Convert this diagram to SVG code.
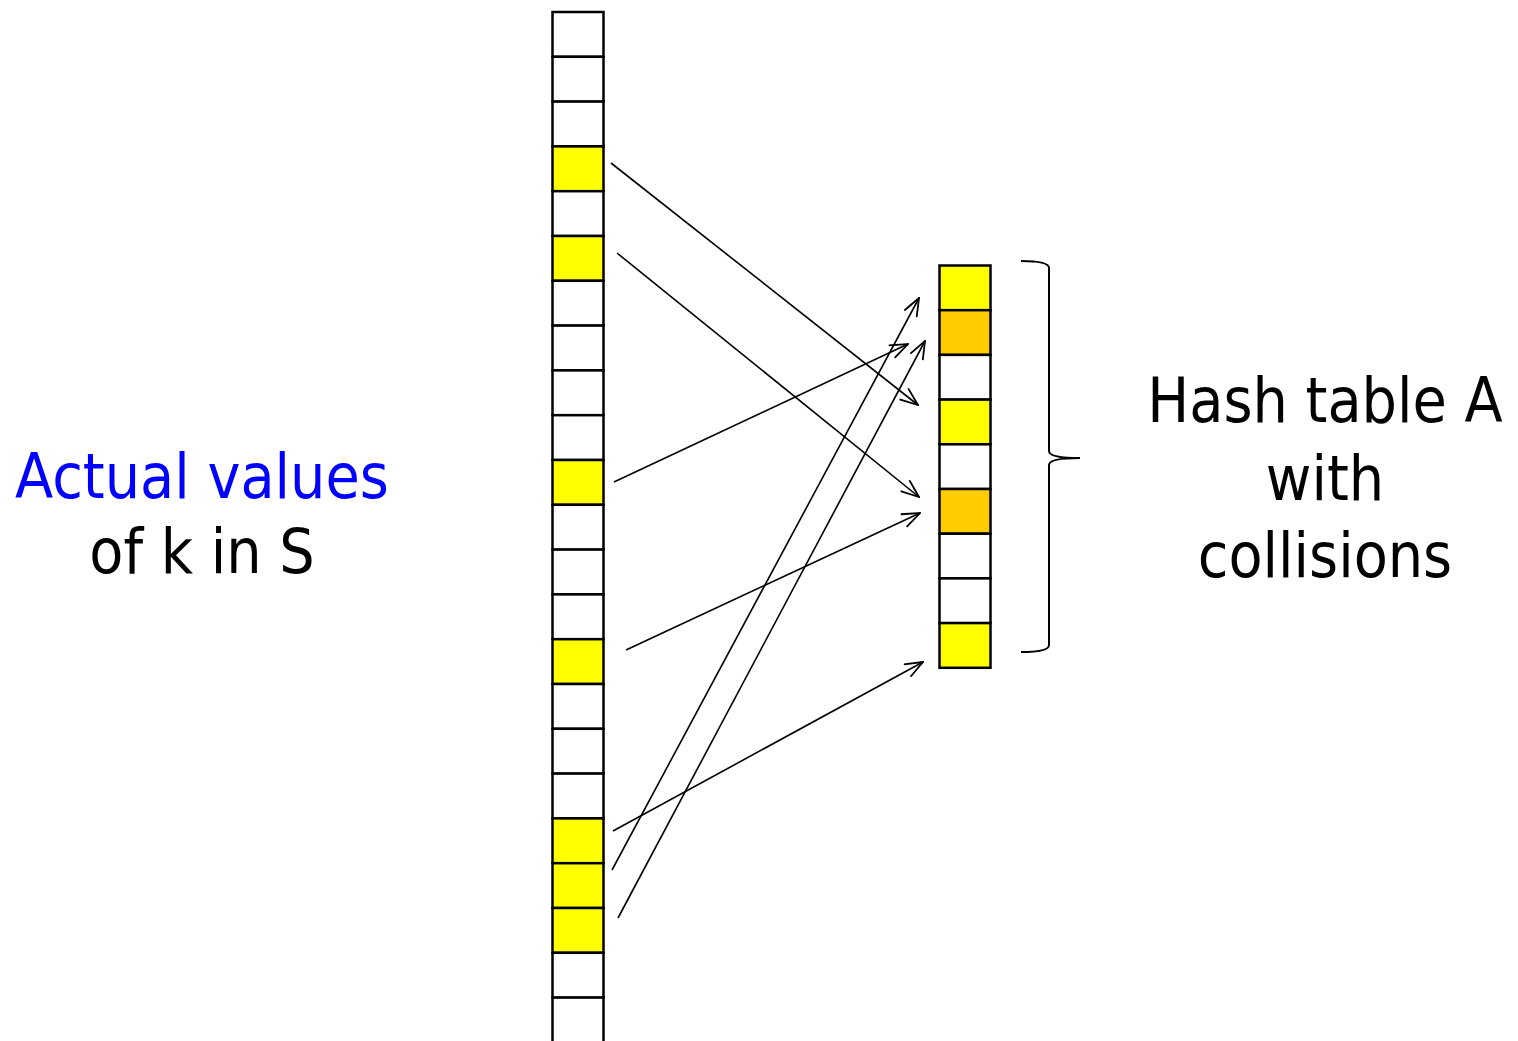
<svg xmlns="http://www.w3.org/2000/svg" width="1518" height="1041" viewBox="0 0 1518 1041">
<style>
.c{stroke:#000;stroke-width:2.5}
.w{fill:#fff}
.y{fill:#ffff00}
.o{fill:#ffcc00}
.t{font-family:"DejaVu Sans Condensed","DejaVu Sans",sans-serif;font-size:62px;text-anchor:middle}
.a{stroke:#000;stroke-width:1.6;fill:none;marker-end:url(#ah)}
</style>
<defs>
<marker id="ah" markerUnits="userSpaceOnUse" viewBox="0 0 20 16" refX="19" refY="8" markerWidth="20" markerHeight="16" orient="auto">
<path d="M1,1 L19,8 L1,15" fill="none" stroke="#000" stroke-width="1.8"/>
</marker>
</defs>
<rect width="1518" height="1041" fill="#fff"/>
<g id="keys">
<rect class="c w" x="552.5" y="12" width="51" height="44.8"/>
<rect class="c w" x="552.5" y="56.8" width="51" height="44.8"/>
<rect class="c w" x="552.5" y="101.6" width="51" height="44.8"/>
<rect class="c y" x="552.5" y="146.4" width="51" height="44.8"/>
<rect class="c w" x="552.5" y="191.2" width="51" height="44.8"/>
<rect class="c y" x="552.5" y="236" width="51" height="44.8"/>
<rect class="c w" x="552.5" y="280.8" width="51" height="44.8"/>
<rect class="c w" x="552.5" y="325.6" width="51" height="44.8"/>
<rect class="c w" x="552.5" y="370.4" width="51" height="44.8"/>
<rect class="c w" x="552.5" y="415.2" width="51" height="44.8"/>
<rect class="c y" x="552.5" y="460" width="51" height="44.8"/>
<rect class="c w" x="552.5" y="504.8" width="51" height="44.8"/>
<rect class="c w" x="552.5" y="549.6" width="51" height="44.8"/>
<rect class="c w" x="552.5" y="594.4" width="51" height="44.8"/>
<rect class="c y" x="552.5" y="639.2" width="51" height="44.8"/>
<rect class="c w" x="552.5" y="684" width="51" height="44.8"/>
<rect class="c w" x="552.5" y="728.8" width="51" height="44.8"/>
<rect class="c w" x="552.5" y="773.6" width="51" height="44.8"/>
<rect class="c y" x="552.5" y="818.4" width="51" height="44.8"/>
<rect class="c y" x="552.5" y="863.2" width="51" height="44.8"/>
<rect class="c y" x="552.5" y="908" width="51" height="44.8"/>
<rect class="c w" x="552.5" y="952.8" width="51" height="44.8"/>
<rect class="c w" x="552.5" y="997.6" width="51" height="44.8"/>
</g>
<g id="table">
<rect class="c y" x="939.5" y="265.5" width="51" height="44.7"/>
<rect class="c o" x="939.5" y="310.2" width="51" height="44.7"/>
<rect class="c w" x="939.5" y="354.9" width="51" height="44.7"/>
<rect class="c y" x="939.5" y="399.6" width="51" height="44.7"/>
<rect class="c w" x="939.5" y="444.3" width="51" height="44.7"/>
<rect class="c o" x="939.5" y="489" width="51" height="44.7"/>
<rect class="c w" x="939.5" y="533.7" width="51" height="44.7"/>
<rect class="c w" x="939.5" y="578.4" width="51" height="44.7"/>
<rect class="c y" x="939.5" y="623.1" width="51" height="44.7"/>
</g>
<g id="brace">
<path d="M1021,261 Q1049,261 1049,268 L1049,451 Q1049,458 1080,458 Q1049,458 1049,465 L1049,645 Q1049,652 1021,652" fill="none" stroke="#000" stroke-width="2"/>
</g>
<g id="connectors">
<line class="a" x1="611" y1="163" x2="918" y2="405"/>
<line class="a" x1="617" y1="253" x2="919" y2="497"/>
<line class="a" x1="614" y1="482" x2="908" y2="344"/>
<line class="a" x1="626" y1="650" x2="920" y2="513"/>
<line class="a" x1="613" y1="831" x2="923" y2="662"/>
<line class="a" x1="612" y1="870" x2="919" y2="298"/>
<line class="a" x1="618" y1="918" x2="925" y2="341"/>
</g>
<g id="label-left">
<text class="t" x="202" y="498" fill="#0000ff">Actual values</text>
<text class="t" x="202" y="573" fill="#000">of k in S</text>
</g>
<g id="label-right">
<text class="t" x="1325" y="422" fill="#000">Hash table A</text>
<text class="t" x="1325" y="500" fill="#000">with</text>
<text class="t" x="1325" y="577" fill="#000">collisions</text>
</g>
</svg>
